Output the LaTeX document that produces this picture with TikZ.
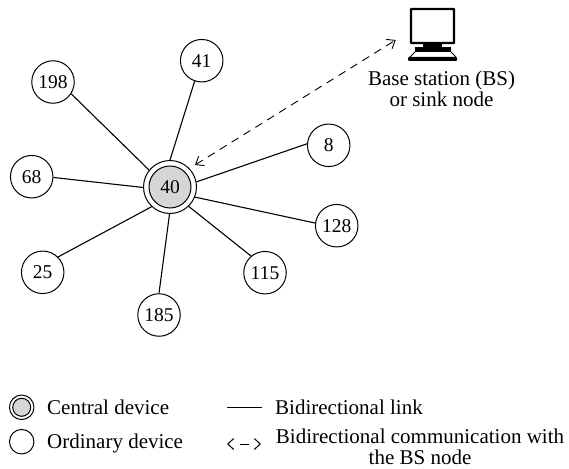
\documentclass[tikz,border=0pt]{standalone}
\usepackage{fontspec}
\setmainfont{Liberation Serif}
\usetikzlibrary{arrows.meta}
\tikzset{
  dev/.style={circle,draw=black,line width=1pt,fill=white,minimum size=42.5pt,inner sep=0pt,font=\fontsize{19.5}{21}\selectfont},
  link/.style={line width=1.1pt,draw=black},
  comm/.style={line width=0.9pt,dash pattern=on 8pt off 6pt,{Straight Barb[length=7pt,width=11pt]}-{Straight Barb[length=7pt,width=11pt]}},
  lbl/.style={font=\fontsize{21}{21}\selectfont,inner sep=0pt},
  ctr/.style={circle,draw=black,line width=1pt,fill=white,minimum size=#1,inner sep=0pt},
  ctri/.style={circle,draw=black,line width=1pt,fill=black!16,minimum size=#1,inner sep=0pt,font=\fontsize{19.5}{21}\selectfont}
}
\begin{document}
\begin{tikzpicture}[x=1pt,y=-1pt]
\useasboundingbox (0,0) rectangle (569,468);
\node[ctr=53pt] (co) at (170,187) {};
\node[ctri=42pt] (c) at (170,187) {40};
\node[dev] (n41) at (201.7,60.7) {41};
\node[dev] (n198) at (53,82) {198};
\node[dev] (n8) at (328.7,145.3) {8};
\node[dev] (n68) at (31.7,176.7) {68};
\node[dev] (n128) at (336.7,225.7) {128};
\node[dev] (n25) at (42.7,272.3) {25};
\node[dev] (n115) at (265,272.7) {115};
\node[dev] (n185) at (159,315) {185};
\draw[link] (co.90) -- (n41.-109.4);
\draw[link] (co.141) -- (n198.-33.4);
\draw[link] (co.181) -- (n68.-2.6);
\draw[link] (co.11.5) -- (n8.176.5);
\draw[link] (co.-22) -- (n128.173.5);
\draw[link] (co.-46.5) -- (n115.130.6);
\draw[link] (co.-133.5) -- (n25.45);
\draw[link] (co.-91.5) -- (n185.90);
% computer
\coordinate (bsport) at (395.7,40);
\coordinate (cport) at (195,165);
\draw[line width=2.2pt,fill=white,rounded corners=0.5pt] (411,9) rectangle (454,43);
\fill (423,43) rectangle (442,47);
\fill (415,47) rectangle (451,52);
\draw[line width=0.8pt] (415,52) -- (410,57) (451,52) -- (456,57);
\fill[rounded corners=1pt] (408,57) rectangle (457,61);
\draw[comm] (cport) -- (bsport);
\node[lbl,align=center] (bs) at (441.5,89) {Base station (BS)\\or sink node};
% legend
\node[ctr=24.5pt] (lc) at (21.7,407.3) {};
\node[ctri=18pt] (lci) at (21.7,407.3) {};
\node[ctr=24.5pt] (lo) at (21.7,441.7) {};
\node[lbl,anchor=base west] (t1) at (47,414) {Central device};
\node[lbl,anchor=base west] (t2) at (47,448) {Ordinary device};
\coordinate (a1) at (227,407.3); \coordinate (a2) at (262,407.3);
\draw[line width=1pt] (a1) -- (a2);
\coordinate (b1) at (227,444); \coordinate (b2) at (261,444);
\draw[line width=1pt,dash pattern=on 0pt off 12pt on 9pt off 13pt,{Straight Barb[length=6pt,width=11pt]}-{Straight Barb[length=6pt,width=11pt]}] (b1) -- (b2);
\node[lbl,anchor=base west] (t3) at (275,414) {Bidirectional link};
\node[lbl,align=center,anchor=center] (t4) at (420,447) {Bidirectional communication with\\the BS node};
\end{tikzpicture}
\end{document}
